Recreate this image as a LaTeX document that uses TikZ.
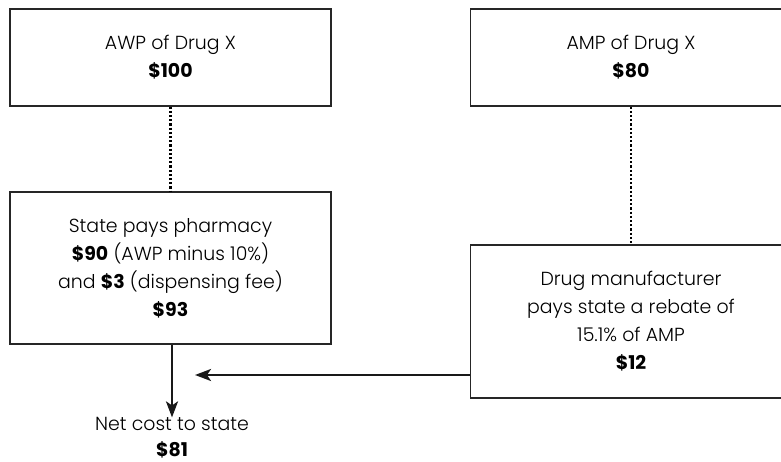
\documentclass[tikz,border=0pt]{standalone}
\usepackage{fontspec}
\setmainfont{Poppins}[UprightFont=* Light,BoldFont=* Bold]
\usetikzlibrary{arrows.meta}

\begin{document}
\begin{tikzpicture}[x=1bp,y=-1bp,
    box/.style={draw=black!85,line width=1.3bp,minimum width=321bp,
      align=center,inner sep=0pt,font=\fontsize{19}{28}\selectfont},
    flow/.style={-{Stealth[length=16bp,width=12bp,inset=4bp]},line width=2.4bp,black!90},
    link/.style={line width=2.4bp,dash pattern=on 2.2bp off 2bp}]
  \useasboundingbox (0,0) rectangle (781,462);

  % top row: prices
  \node[box,minimum height=97bp] (awp) at (170.5,57.5)
    {AWP of Drug X\\\textbf{\$100}};
  \node[box,minimum height=97bp] (amp) at (631,57.5)
    {AMP of Drug X\\\textbf{\$80}};

  % payments
  \node[box,minimum height=152bp] (pay) at (170.5,268)
    {State pays pharmacy\\\textbf{\$90} (AWP minus 10\%)\\and \textbf{\$3} (dispensing fee)\\\textbf{\$93}};
  \node[box,minimum height=153bp] (rebate) at (631,321.5)
    {Drug manufacturer\\pays state a rebate of\\15.1\% of AMP\\\textbf{\$12}};

  \node[align=center,inner sep=0pt,font=\fontsize{19}{26}\selectfont]
    (net) at (172,438) {Net cost to state\\\textbf{\$81}};

  \draw[link] (awp) -- (pay);
  \draw[link] (amp) -- (rebate);

  \coordinate (tip) at (195,375);
  \draw[flow] (pay.south -| net) -- (net.north);
  \draw[flow] (rebate.west |- tip) -- (tip);
\end{tikzpicture}
\end{document}
